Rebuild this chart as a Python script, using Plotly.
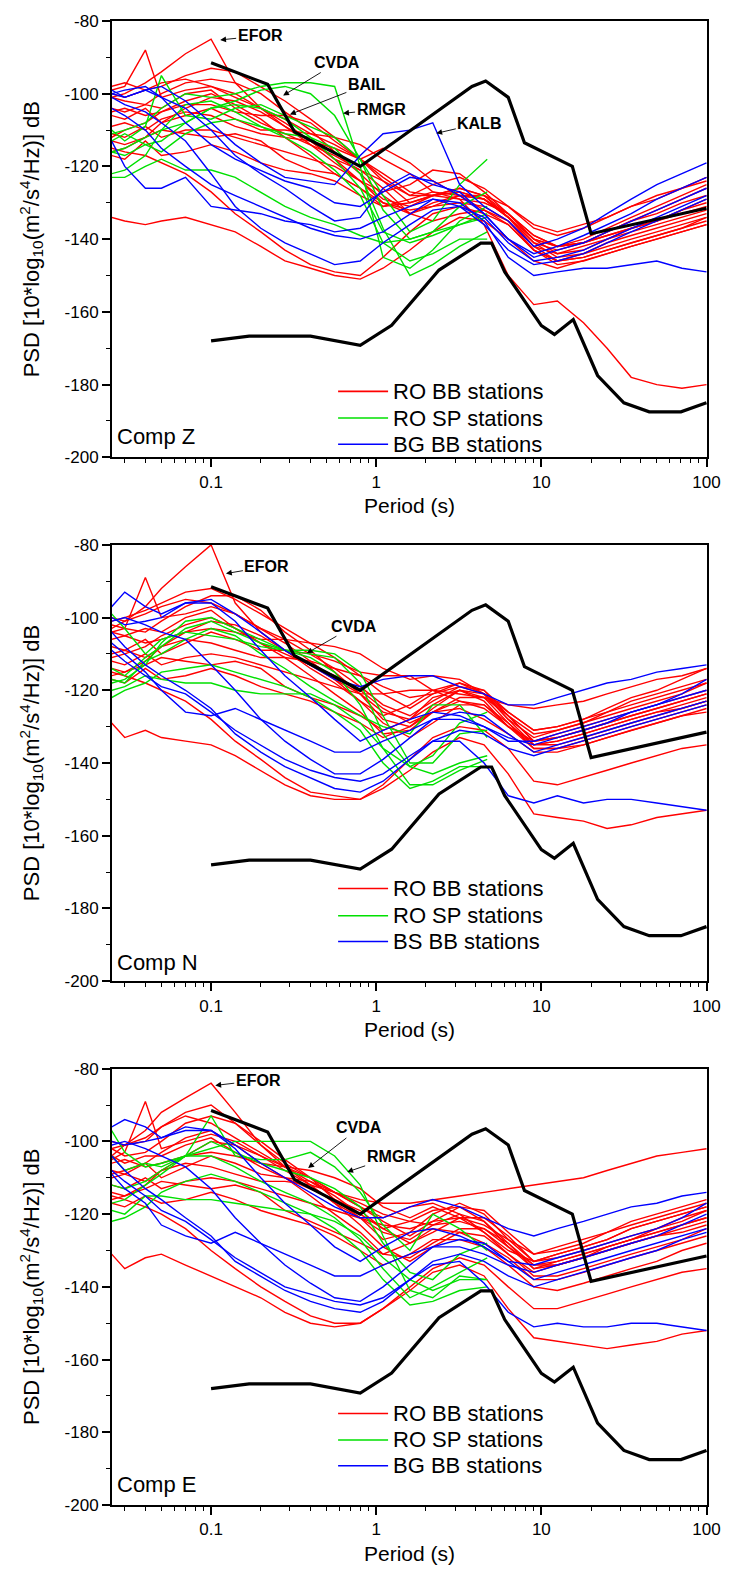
import math
import plotly.graph_objects as go

# ---------------- data ----------------
PER_BB = [0.025, 0.03, 0.04, 0.05, 0.07, 0.1, 0.14, 0.2, 0.28, 0.4, 0.56, 0.8, 1.1, 1.6,
          2.2, 3.2, 4.5, 6.3, 9, 12.5, 18, 25, 35, 50, 71, 100]
PER_SP = [0.025, 0.03, 0.04, 0.05, 0.07, 0.1, 0.14, 0.2, 0.28, 0.4, 0.56, 0.8, 1.1, 1.6,
          2.2, 3.2, 4.7]

NHNM_P = [0.1, 0.22, 0.32, 0.8, 3.8, 4.6, 6.3, 7.9, 15.4, 20, 100]
NHNM_DB = [-91.5, -97.4, -110.5, -120.0, -98.0, -96.5, -101.0, -113.5, -120.0, -138.5, -131.5]
NLNM_P = [0.1, 0.17, 0.4, 0.8, 1.24, 2.4, 4.3, 5.0, 6.0, 10, 12, 15.6, 21.9, 31.6, 45, 70, 100]
NLNM_DB = [-168.0, -166.7, -166.7, -169.2, -163.7, -148.5, -141.1, -141.1, -149.0, -163.8,
           -166.2, -162.1, -177.5, -185.0, -187.5, -187.5, -185.0]

Y_TICKS = [-200, -180, -160, -140, -120, -100, -80]
Y_TICK_TEXT = ["-200", "-180", "-160", "-140", "-120", "-100", "-80"]
X_TICKS = [0.1, 1, 10, 100]
X_TICK_TEXT = ["0.1", "1", "10", "100"]

Z_RED = [
    [-101,-100,-97,-94,-89,-85,-97,-104,-109,-114,-119,-124,-129,-131,-128,-126,-128,-134,-141,-143,-141,-138,-135,-132,-129,-126],
    [-99,-98,-88,-101,-99,-98,-100,-104,-107,-111,-114,-118,-124,-130,-128,-127,-129,-133,-140,-142,-140,-137,-134,-131,-128,-125],
    [-98,-97,-99,-98,-95,-93,-94,-98,-102,-107,-112,-118,-123,-128,-125,-123,-126,-131,-136,-138,-136,-134,-131,-128,-126,-123],
    [-101,-102,-103,-100,-97,-96,-97,-100,-105,-110,-116,-122,-128,-133,-130,-128,-129,-134,-142,-146,-144,-141,-139,-137,-135,-133],
    [-105,-104,-106,-105,-103,-103,-105,-106,-106,-108,-113,-118,-122,-127,-128,-126,-128,-133,-140,-144,-143,-140,-137,-135,-132,-130],
    [-106,-107,-104,-108,-106,-104,-107,-110,-110,-111,-112,-114,-118,-122,-127,-129,-130,-133,-139,-142,-141,-139,-137,-135,-133,-131],
    [-109,-108,-110,-107,-105,-106,-109,-111,-112,-113,-115,-118,-115,-119,-124,-128,-128,-131,-137,-139,-137,-134,-131,-129,-126,-124],
    [-111,-112,-109,-112,-110,-110,-112,-114,-116,-118,-120,-124,-127,-125,-121,-122,-127,-133,-139,-142,-141,-139,-137,-135,-132,-129],
    [-113,-114,-112,-110,-111,-112,-111,-113,-118,-121,-122,-126,-130,-132,-131,-128,-129,-134,-141,-145,-144,-142,-140,-138,-136,-134],
    [-116,-115,-112,-108,-104,-101,-102,-105,-109,-113,-118,-124,-130,-133,-131,-130,-131,-135,-143,-147,-146,-144,-142,-140,-138,-136],
    [-117,-118,-113,-117,-116,-114,-116,-119,-121,-122,-124,-128,-131,-129,-127,-128,-132,-136,-143,-146,-145,-143,-141,-139,-137,-135],
    [-115,-116,-117,-119,-122,-127,-133,-138,-143,-147,-149,-150,-145,-138,-133,-131,-133,-136,-143,-146,-145,-143,-141,-139,-137,-134],
    [-134,-135,-136,-135,-134,-136,-138,-142,-146,-148,-150,-151,-148,-143,-138,-134,-135,-140,-146,-148,-146,-144,-142,-140,-138,-136],
    [-112,-110,-108,-105,-102,-100,-103,-107,-112,-117,-122,-126,-131,-130,-128,-129,-136,-150,-158,-157,-163,-170,-178,-180,-181,-180],
    [-100,-101,-99,-97,-96,-98,-101,-104,-108,-113,-118,-121,-124,-128,-128,-127,-129,-134,-140,-142,-141,-138,-135,-133,-130,-128],
    [-104,-105,-103,-104,-100,-99,-104,-108,-111,-114,-117,-121,-126,-133,-135,-133,-132,-135,-142,-144,-142,-140,-138,-136,-134,-132],
]
Z_GREEN = [
    [-111,-110,-108,-104,-100,-101,-100,-98,-97,-97,-98,-120,-145,-148,-143,-135,-131],
    [-116,-115,-112,-110,-108,-104,-102,-99,-98,-100,-106,-118,-132,-140,-138,-131,-127],
    [-110,-113,-109,-95,-106,-107,-104,-103,-106,-109,-112,-118,-128,-138,-135,-125,-118],
    [-123,-123,-120,-118,-121,-121,-123,-127,-131,-134,-136,-139,-141,-140,-138,-136,-134],
    [-116,-117,-114,-113,-108,-104,-103,-104,-107,-112,-118,-126,-138,-141,-139,-136,-133],
    [-113,-111,-114,-116,-111,-108,-107,-109,-111,-112,-115,-122,-137,-150,-147,-142,-138],
    [-122,-121,-117,-110,-103,-102,-105,-109,-112,-116,-121,-128,-141,-146,-144,-140,-140],
]
Z_BLUE = [
    [-100,-101,-99,-98,-102,-108,-114,-119,-123,-124,-125,-117,-111,-110,-108,-125,-131,-135,-142,-140,-137,-133,-129,-125,-122,-119],
    [-99,-101,-99,-101,-108,-114,-118,-121,-124,-126,-130,-131,-127,-123,-124,-128,-133,-140,-145,-143,-141,-138,-135,-132,-129,-126],
    [-113,-120,-126,-126,-123,-131,-132,-133,-135,-136,-138,-137,-134,-131,-129,-131,-136,-143,-147,-146,-144,-141,-138,-135,-132,-129],
    [-101,-103,-105,-108,-113,-122,-131,-137,-141,-144,-147,-146,-141,-136,-132,-131,-134,-141,-146,-145,-143,-140,-137,-134,-131,-128],
    [-104,-106,-110,-115,-120,-125,-128,-131,-134,-137,-139,-140,-138,-133,-129,-130,-135,-145,-150,-149,-148,-148,-147,-146,-148,-149],
    [-100,-99,-98,-101,-104,-110,-117,-122,-126,-131,-135,-134,-126,-122,-125,-127,-133,-140,-144,-142,-139,-136,-133,-129,-126,-123],
]

N_RED = [
    [-103,-101,-97,-92,-86,-80,-96,-104,-109,-114,-118,-123,-127,-124,-120,-118,-121,-128,-133,-131,-129,-126,-123,-121,-119,-117],
    [-104,-103,-89,-100,-99,-97,-99,-103,-106,-110,-114,-119,-124,-127,-123,-119,-120,-127,-134,-132,-130,-128,-126,-124,-122,-120],
    [-101,-100,-98,-96,-93,-92,-95,-99,-103,-107,-111,-116,-121,-125,-121,-118,-120,-126,-131,-130,-128,-125,-122,-120,-117,-114],
    [-102,-103,-104,-101,-97,-94,-94,-98,-104,-109,-115,-121,-128,-130,-125,-120,-122,-129,-135,-134,-132,-130,-128,-126,-124,-122],
    [-106,-105,-107,-106,-104,-103,-104,-106,-106,-107,-108,-110,-114,-117,-116,-117,-121,-127,-132,-131,-129,-127,-125,-123,-121,-118],
    [-108,-109,-106,-110,-107,-104,-106,-109,-109,-110,-112,-115,-116,-116,-120,-123,-125,-130,-134,-133,-131,-129,-127,-125,-123,-121],
    [-110,-109,-111,-108,-106,-107,-109,-111,-111,-112,-114,-116,-119,-122,-121,-119,-121,-128,-135,-134,-132,-130,-128,-126,-125,-123],
    [-112,-113,-110,-113,-111,-110,-111,-113,-115,-117,-119,-121,-121,-120,-120,-121,-122,-124,-125,-124,-123,-121,-119,-117,-116,-114],
    [-114,-115,-113,-111,-112,-113,-112,-114,-119,-122,-124,-127,-131,-128,-122,-120,-123,-130,-135,-135,-133,-131,-129,-127,-125,-123],
    [-116,-115,-112,-108,-104,-101,-102,-105,-109,-113,-117,-123,-129,-133,-129,-124,-124,-129,-136,-136,-134,-132,-130,-128,-126,-124],
    [-117,-118,-114,-117,-116,-114,-116,-119,-121,-123,-126,-129,-133,-130,-126,-125,-128,-132,-137,-137,-135,-133,-131,-129,-127,-126],
    [-115,-116,-118,-120,-123,-128,-134,-139,-144,-148,-149,-150,-146,-139,-133,-130,-131,-136,-145,-146,-144,-142,-140,-138,-136,-135],
    [-129,-133,-131,-133,-134,-135,-138,-142,-146,-149,-150,-150,-147,-142,-137,-133,-135,-143,-154,-155,-156,-158,-157,-155,-154,-153],
    [-104,-105,-103,-104,-100,-98,-103,-107,-110,-113,-116,-120,-125,-129,-126,-122,-122,-127,-134,-133,-131,-129,-127,-125,-123,-121],
    [-100,-101,-99,-97,-95,-96,-99,-103,-107,-112,-117,-121,-126,-128,-124,-120,-121,-126,-131,-130,-128,-126,-124,-122,-120,-118],
    [-111,-110,-108,-105,-102,-100,-103,-107,-111,-116,-121,-126,-132,-131,-126,-123,-124,-130,-136,-136,-135,-133,-131,-129,-127,-125],
]
N_GREEN = [
    [-99,-103,-110,-106,-104,-105,-106,-108,-109,-110,-111,-118,-132,-141,-138,-129,-126],
    [-114,-116,-111,-108,-103,-101,-104,-107,-109,-109,-110,-115,-127,-140,-140,-132,-131],
    [-118,-117,-113,-107,-101,-100,-103,-106,-109,-111,-115,-124,-136,-146,-146,-142,-139],
    [-120,-119,-116,-117,-118,-118,-120,-121,-121,-121,-124,-129,-136,-141,-143,-140,-138],
    [-122,-120,-118,-115,-114,-113,-115,-117,-119,-122,-126,-131,-140,-147,-145,-141,-141],
    [-117,-118,-112,-110,-106,-103,-105,-110,-114,-119,-123,-127,-130,-132,-124,-124,-133],
]
N_BLUE = [
    [-97,-93,-97,-99,-96,-95,-99,-104,-109,-113,-117,-119,-117,-116,-116,-119,-121,-124,-124,-122,-120,-118,-117,-115,-114,-113],
    [-107,-110,-115,-120,-126,-127,-125,-128,-131,-134,-137,-137,-134,-131,-128,-128,-130,-134,-134,-132,-130,-128,-126,-124,-121,-117],
    [-100,-102,-101,-100,-96,-96,-101,-109,-116,-122,-128,-134,-131,-128,-126,-127,-130,-133,-135,-133,-131,-129,-126,-124,-122,-120],
    [-104,-108,-113,-116,-120,-125,-132,-137,-141,-144,-147,-148,-145,-139,-134,-131,-132,-136,-138,-136,-134,-132,-130,-128,-126,-124],
    [-109,-112,-116,-119,-121,-126,-131,-135,-139,-142,-144,-145,-143,-138,-134,-134,-140,-149,-151,-149,-151,-150,-150,-151,-152,-153],
    [-101,-100,-102,-104,-106,-113,-120,-128,-134,-139,-143,-143,-139,-133,-128,-126,-127,-132,-137,-135,-133,-131,-129,-127,-125,-123],
]

E_RED = [
    [-104,-101,-97,-92,-88,-84,-92,-101,-107,-111,-115,-120,-124,-122,-119,-118,-122,-129,-134,-133,-131,-129,-127,-125,-123,-121],
    [-105,-103,-89,-102,-100,-98,-100,-104,-107,-110,-114,-118,-122,-126,-122,-118,-119,-125,-131,-130,-128,-125,-123,-121,-119,-117],
    [-102,-101,-100,-96,-92,-90,-95,-101,-106,-110,-114,-116,-117,-117,-116,-115,-114,-113,-112,-111,-110,-108,-106,-104,-103,-102],
    [-102,-104,-103,-100,-95,-93,-95,-100,-105,-110,-116,-121,-127,-125,-120,-117,-120,-127,-133,-132,-130,-128,-126,-124,-122,-119],
    [-106,-105,-107,-106,-104,-103,-104,-106,-107,-108,-110,-113,-118,-121,-118,-121,-125,-131,-136,-134,-132,-130,-128,-126,-125,-123],
    [-108,-109,-106,-110,-107,-104,-106,-109,-110,-111,-114,-118,-121,-118,-117,-120,-125,-130,-133,-131,-129,-127,-124,-122,-120,-118],
    [-110,-109,-111,-108,-106,-107,-109,-111,-111,-112,-114,-117,-120,-122,-123,-122,-124,-129,-135,-133,-131,-129,-127,-125,-123,-121],
    [-112,-113,-110,-113,-111,-110,-111,-113,-115,-117,-119,-121,-123,-124,-122,-121,-123,-127,-131,-129,-127,-125,-122,-120,-118,-116],
    [-114,-115,-113,-111,-112,-113,-112,-114,-119,-122,-125,-128,-131,-128,-124,-125,-128,-132,-138,-138,-136,-134,-132,-130,-128,-126],
    [-116,-115,-112,-108,-104,-100,-101,-104,-108,-112,-117,-123,-129,-133,-129,-125,-126,-131,-137,-137,-135,-133,-131,-129,-127,-124],
    [-117,-118,-115,-117,-116,-114,-116,-119,-121,-123,-126,-130,-134,-131,-127,-127,-129,-134,-140,-141,-139,-137,-135,-133,-130,-128],
    [-115,-116,-118,-120,-124,-130,-135,-140,-144,-148,-150,-150,-146,-140,-135,-132,-134,-140,-146,-146,-144,-142,-140,-138,-136,-135],
    [-131,-135,-132,-131,-134,-137,-140,-143,-147,-150,-151,-150,-146,-141,-136,-134,-137,-146,-154,-155,-156,-157,-156,-155,-153,-152],
    [-104,-106,-104,-104,-101,-99,-103,-107,-110,-113,-116,-119,-124,-128,-125,-121,-121,-126,-133,-131,-129,-127,-124,-122,-120,-118],
    [-100,-101,-99,-96,-93,-95,-99,-103,-107,-112,-117,-121,-125,-127,-123,-120,-122,-128,-134,-134,-132,-130,-128,-126,-124,-122],
    [-109,-108,-106,-103,-99,-97,-101,-106,-110,-115,-120,-125,-131,-132,-128,-124,-124,-128,-135,-134,-132,-129,-127,-124,-121,-119],
]
E_GREEN = [
    [-97,-103,-107,-106,-104,-102,-100,-100,-100,-100,-104,-112,-126,-141,-143,-137,-138],
    [-104,-108,-106,-107,-104,-93,-104,-105,-105,-103,-107,-114,-123,-130,-120,-124,-130],
    [-117,-116,-112,-109,-104,-100,-103,-106,-108,-110,-113,-118,-128,-136,-138,-131,-128],
    [-119,-120,-115,-115,-116,-116,-117,-118,-119,-120,-122,-126,-132,-138,-141,-138,-138],
    [-122,-121,-118,-114,-111,-109,-111,-114,-117,-120,-124,-130,-138,-145,-144,-141,-140],
    [-112,-113,-111,-108,-104,-104,-107,-111,-114,-117,-121,-127,-135,-143,-140,-136,-132],
]
E_BLUE = [
    [-96,-94,-96,-99,-97,-97,-101,-106,-110,-114,-118,-121,-121,-118,-116,-118,-121,-124,-126,-124,-122,-120,-118,-117,-115,-114],
    [-109,-113,-117,-123,-126,-128,-125,-128,-131,-134,-137,-137,-134,-131,-129,-129,-131,-134,-136,-134,-132,-130,-128,-126,-123,-120],
    [-100,-101,-100,-99,-96,-97,-102,-110,-117,-123,-129,-133,-129,-125,-124,-126,-129,-133,-134,-132,-130,-128,-126,-124,-121,-117],
    [-104,-108,-113,-116,-121,-126,-133,-137,-141,-144,-146,-147,-144,-138,-133,-131,-133,-137,-140,-138,-136,-134,-132,-130,-127,-125],
    [-108,-111,-115,-119,-122,-127,-132,-136,-140,-142,-144,-145,-143,-138,-134,-133,-139,-147,-151,-150,-151,-151,-150,-150,-151,-152],
    [-101,-100,-102,-104,-107,-113,-121,-128,-134,-139,-143,-144,-140,-134,-129,-127,-128,-133,-138,-136,-134,-132,-130,-128,-126,-124],
]

COMP_LABELS = ["Comp Z", "Comp N", "Comp E"]
LEGEND_TEXTS = [
    ["RO BB stations", "RO SP stations", "BG BB stations"],
    ["RO BB stations", "RO SP stations", "BS BB stations"],
    ["RO BB stations", "RO SP stations", "BG BB stations"],
]
# station labels: (text, tip period, tip dB, text dx px, text dy px)
STATION_LABELS = [
    [("EFOR", 0.1135, -85.2, 40, -4), ("CVDA", 0.273, -100.5, 54, -33),
     ("BAIL", 0.30, -105.7, 77, -30), ("RMGR", 0.63, -105.4, 38, -4),
     ("KALB", 2.31, -110.9, 43, -10)],
    [("EFOR", 0.123, -87.9, 41, -7), ("CVDA", 0.38, -109.8, 47, -27)],
    [("EFOR", 0.106, -84.6, 43, -5), ("CVDA", 0.387, -107.3, 51, -40),
     ("RMGR", 0.667, -108.4, 44, -15)],
]

# ---------------- figure ----------------
RED, GREEN, BLUE = "#FF0000", "#00E000", "#0000FF"
FONT = "Arial, 'Liberation Sans', sans-serif"
DOMAINS = [[0.7060, 1.0], [0.3530, 0.6470], [0.0, 0.2940]]
LEG_Y = [[0.151, 0.090, 0.030], [0.2125, 0.150, 0.091], [0.2096, 0.149, 0.090]]
COMP_Y = [0.047, 0.042, 0.046]

fig = go.Figure()
panels = [(Z_RED, Z_GREEN, Z_BLUE), (N_RED, N_GREEN, N_BLUE), (E_RED, E_GREEN, E_BLUE)]

annotations = []
shapes = []
minor_x = [v * m for m in (0.01, 0.1, 1, 10) for v in range(2, 10) if 0.025 <= v * m <= 100]

for i, (reds, greens, blues) in enumerate(panels):
    sfx = "" if i == 0 else str(i + 1)
    xa, ya = "x" + sfx, "y" + sfx
    for vals in reds:
        fig.add_trace(go.Scatter(x=PER_BB, y=vals, mode="lines", line=dict(color=RED, width=1.4),
                                 showlegend=False, xaxis=xa, yaxis=ya, hoverinfo="skip"))
    for vals in greens:
        fig.add_trace(go.Scatter(x=PER_SP, y=vals, mode="lines", line=dict(color=GREEN, width=1.4),
                                 showlegend=False, xaxis=xa, yaxis=ya, hoverinfo="skip"))
    for vals in blues:
        fig.add_trace(go.Scatter(x=PER_BB, y=vals, mode="lines", line=dict(color=BLUE, width=1.4),
                                 showlegend=False, xaxis=xa, yaxis=ya, hoverinfo="skip"))
    for px_, db_ in ((NHNM_P, NHNM_DB), (NLNM_P, NLNM_DB)):
        fig.add_trace(go.Scatter(x=px_, y=db_, mode="lines", line=dict(color="black", width=3.2),
                                 showlegend=False, xaxis=xa, yaxis=ya, hoverinfo="skip"))

    fig.layout["xaxis" + sfx] = dict(
        type="log", range=[-1.6, 2.003], domain=[0, 1], anchor=ya,
        tickvals=X_TICKS, ticktext=X_TICK_TEXT,
        ticks="outside", ticklen=8, tickwidth=1.5, tickcolor="black",
        minor=dict(tickvals=minor_x, ticks="outside", ticklen=4, tickwidth=1.2, tickcolor="black"),
        showline=True, linecolor="black", linewidth=2, mirror=True,
        showgrid=False, zeroline=False,
        tickfont=dict(family=FONT, size=17, color="black"),
        title=dict(text="Period (s)", font=dict(family=FONT, size=21, color="black"), standoff=8),
    )
    fig.layout["yaxis" + sfx] = dict(
        range=[-200, -80], domain=DOMAINS[i], anchor=xa,
        tickvals=Y_TICKS, ticktext=Y_TICK_TEXT,
        ticks="outside", ticklen=8, tickwidth=1.5, tickcolor="black",
        minor=dict(tickvals=list(range(-190, -80, 20)), ticks="outside", ticklen=4,
                   tickwidth=1.2, tickcolor="black"),
        showline=True, linecolor="black", linewidth=2, mirror=True,
        showgrid=False, zeroline=False,
        tickfont=dict(family=FONT, size=17, color="black"),
        title=dict(text="PSD [10*log<sub>10</sub>(m<sup>2</sup>/s<sup>4</sup>/Hz)] dB",
                   font=dict(family=FONT, size=22, color="black"), standoff=19),
    )

    # component label
    annotations.append(dict(text=COMP_LABELS[i], xref=xa + " domain", yref=ya + " domain",
                            x=0.005, y=COMP_Y[i], xanchor="left", yanchor="middle",
                            showarrow=False, font=dict(family=FONT, size=22, color="black")))
    # manual legend
    for txt, col, yy in zip(LEGEND_TEXTS[i], (RED, GREEN, BLUE), LEG_Y[i]):
        shapes.append(dict(type="line", xref=xa + " domain", yref=ya + " domain",
                           x0=0.380, x1=0.464, y0=yy, y1=yy, line=dict(color=col, width=1.6)))
        annotations.append(dict(text=txt, xref=xa + " domain", yref=ya + " domain",
                                x=0.469, y=yy, xanchor="left", yanchor="middle", showarrow=False,
                                font=dict(family=FONT, size=22, color="black")))
    # station labels with arrows
    for txt, tp, tdb, dx, dy in STATION_LABELS[i]:
        annotations.append(dict(text="<b>" + txt + "</b>", xref=xa, yref=ya,
                                x=math.log10(tp), y=tdb, ax=dx, ay=dy,
                                showarrow=True, arrowhead=2, arrowsize=1.3, arrowwidth=0.9,
                                arrowcolor="black",
                                font=dict(family=FONT, size=16, color="black")))

fig.update_layout(
    width=735, height=1574,
    margin=dict(l=112, r=28, t=14, b=67),
    paper_bgcolor="white", plot_bgcolor="white",
    showlegend=False,
    annotations=annotations, shapes=shapes,
    font=dict(family=FONT, color="black"),
)

fig.write_html("out.html")
